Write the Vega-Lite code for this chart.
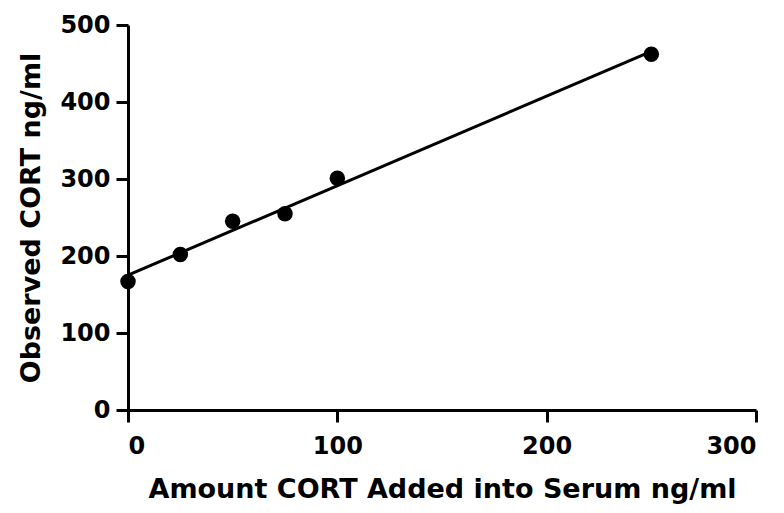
{
  "$schema": "https://vega.github.io/schema/vega-lite/v6.json",
  "width": 628,
  "height": 385,
  "autosize": "none",
  "padding": {"left": 128, "top": 25, "right": 28, "bottom": 103},
  "background": "white",
  "config": {
    "view": {"stroke": null},
    "axis": {
      "grid": false,
      "domainColor": "black",
      "domainWidth": 3,
      "tickColor": "black",
      "tickWidth": 3,
      "tickSize": 12,
      "labelFont": "DejaVu Sans",
      "labelFontWeight": "bold",
      "labelFontSize": 24,
      "labelColor": "black",
      "titleFont": "DejaVu Sans",
      "titleFontWeight": "bold",
      "titleFontSize": 27,
      "titleColor": "black"
    }
  },
  "data": {
    "values": [
      {"added": 0, "observed": 167},
      {"added": 25, "observed": 202},
      {"added": 50, "observed": 245},
      {"added": 75, "observed": 255},
      {"added": 100, "observed": 301},
      {"added": 250, "observed": 462}
    ]
  },
  "layer": [
    {
      "transform": [{"regression": "observed", "on": "added", "extent": [0, 250]}],
      "mark": {"type": "line", "color": "black", "strokeWidth": 3, "clip": false},
      "encoding": {
        "x": {"field": "added", "type": "quantitative"},
        "y": {"field": "observed", "type": "quantitative"}
      }
    },
    {
      "mark": {"type": "point", "filled": true, "color": "black", "opacity": 1, "size": 240, "clip": false},
      "encoding": {
        "x": {
          "field": "added",
          "type": "quantitative",
          "scale": {"domain": [0, 300], "nice": false, "zero": true},
          "axis": {"values": [0, 100, 200, 300], "title": "Amount CORT Added into Serum ng/ml", "labelPadding": 12, "titlePadding": 18}
        },
        "y": {
          "field": "observed",
          "type": "quantitative",
          "scale": {"domain": [0, 500], "nice": false},
          "axis": {"values": [0, 100, 200, 300, 400, 500], "title": "Observed CORT ng/ml", "labelPadding": 6, "titlePadding": 14}
        }
      }
    }
  ]
}
